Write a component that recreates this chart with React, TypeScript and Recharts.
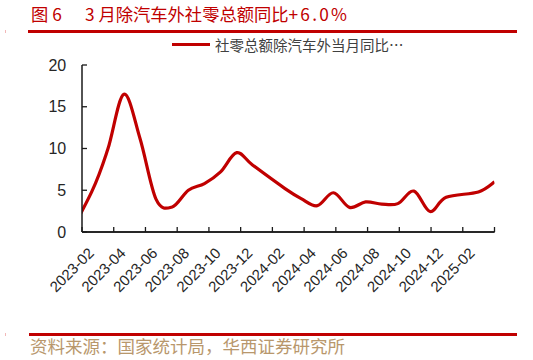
import React from 'react';
import { LineChart, Line, XAxis, YAxis, ReferenceLine } from 'recharts';

// ---- data ----
const MONTHS = [
  '2022-12',
  '2023-02', '2023-03', '2023-04', '2023-05', '2023-06', '2023-07', '2023-08', '2023-09', '2023-10', '2023-11', '2023-12',
  '2024-02', '2024-03', '2024-04', '2024-05', '2024-06', '2024-07', '2024-08', '2024-09', '2024-10', '2024-11', '2024-12',
  '2025-02', '2025-03',
];
const VALUES = [
  -2.5,
  4.8, 9.9, 16.5, 11.2, 3.9, 3.0, 5.0, 5.8, 7.2, 9.5, 8.0,
  5.2, 4.0, 3.15, 4.7, 2.95, 3.6, 3.35, 3.4, 4.9, 2.45, 4.15,
  4.8, 6.0,
];
const X_LABELS = [
  '2023-02', '2023-04', '2023-06', '2023-08', '2023-10', '2023-12',
  '2024-02', '2024-04', '2024-06', '2024-08', '2024-10', '2024-12', '2025-02',
];
const Y_TICKS = [0, 5, 10, 15, 20];
const SERIES_NAME = '社零总额除汽车外当月同比…';
const TITLE_A = '图 6';
const TITLE_B = '3 月除汽车外社零总额同比';
const TITLE_C = '+6.0%';
const SOURCE = '资料来源：国家统计局，华西证券研究所';

// ---- layout ----
const W = 533;
const H = 360;
const PLOT_L = 82;
const PLOT_T = 65;
const PLOT_R = 494.5;
const AXIS_Y = 232;
const PLOT_W = PLOT_R - PLOT_L;
const X_MIN = 0.4;
const X_MAX = 26;
const N_INT = X_LABELS.length;
const X_TICKS = Array.from({ length: N_INT + 1 }, (_, i) => X_MIN + (i * (X_MAX - X_MIN)) / N_INT);

const RED = '#c00000';
const AXIS = '#1a1a1a';

const monthIndex = (s: string) => {
  const [y, m] = s.split('-').map(Number);
  return (y - 2023) * 12 + (m - 1);
};

const data = MONTHS.map((mo, i) => ({ month: mo, m: monthIndex(mo), v: VALUES[i] }));

// Catmull-Rom style smoothing (similar to spreadsheet smoothed lines)
function smoothCurve(context: any) {
  let pts: number[][] = [];
  return {
    areaStart() {},
    areaEnd() {},
    lineStart() {
      pts = [];
    },
    lineEnd() {
      const n = pts.length;
      if (!n) return;
      context.moveTo(pts[0][0], pts[0][1]);
      for (let i = 0; i < n - 1; i++) {
        const p0 = pts[Math.max(i - 1, 0)];
        const p1 = pts[i];
        const p2 = pts[i + 1];
        const p3 = pts[Math.min(i + 2, n - 1)];
        context.bezierCurveTo(
          p1[0] + (p2[0] - p0[0]) / 6,
          p1[1] + (p2[1] - p0[1]) / 6,
          p2[0] - (p3[0] - p1[0]) / 6,
          p2[1] - (p3[1] - p1[1]) / 6,
          p2[0],
          p2[1]
        );
      }
    },
    point(x: number, y: number) {
      pts.push([+x, +y]);
    },
  };
}

const XTick = (props: any) => {
  const { x, index } = props;
  const step = PLOT_W / N_INT;
  const lx = x + step / 2 - 3;
  const ly = AXIS_Y + 22;
  return (
    <g>
      <line x1={x} x2={x} y1={AXIS_Y} y2={AXIS_Y - 5} stroke={AXIS} strokeWidth={1.3} />
      {index < N_INT && (
        <text
          x={lx}
          y={ly}
          textAnchor="end"
          fontSize={15}
          fill="#262626"
          fontFamily="'Liberation Sans', Arial, sans-serif"
          transform={`rotate(-45 ${lx} ${ly})`}
        >
          {X_LABELS[index]}
        </text>
      )}
    </g>
  );
};

const cjk = "'Noto Sans CJK SC', 'Noto Sans CJK JP', sans-serif";

export default function App() {
  return (
    <div style={{ position: 'absolute', left: 0, top: 0, width: W, height: H, background: '#fff', overflow: 'hidden' }}>
      {/* title */}
      <div style={{ position: 'absolute', left: 31, top: 4.5, fontFamily: cjk, fontSize: 17.3, lineHeight: '17.3px', color: RED, whiteSpace: 'pre' }}>
        {TITLE_A}
      </div>
      <div style={{ position: 'absolute', left: 85, top: 4.5, fontFamily: cjk, fontSize: 17.3, lineHeight: '17.3px', color: RED, whiteSpace: 'pre' }}>
        {TITLE_B}
        <span style={{ letterSpacing: 2.2 }}>{TITLE_C}</span>
      </div>
      <div style={{ position: 'absolute', left: 28, top: 30, width: 489, height: 2.8, background: RED }} />
      <div style={{ position: 'absolute', left: 5, top: 30, width: 1, height: 3, background: '#f2b8b8' }} />

      {/* legend */}
      <div style={{ position: 'absolute', left: 172, top: 43, width: 38, height: 3, background: RED }} />
      <div style={{ position: 'absolute', left: 215, top: 37.5, fontFamily: cjk, fontSize: 14.5, lineHeight: '14.5px', color: '#404040', whiteSpace: 'pre' }}>
        {SERIES_NAME}
      </div>

      <div style={{ position: 'absolute', left: 0, top: 0 }}>
        <LineChart width={W} height={H} data={data} margin={{ top: PLOT_T, right: W - PLOT_R, bottom: 0, left: 0 }}>
          <XAxis
            dataKey="m"
            type="number"
            domain={[X_MIN, X_MAX]}
            allowDataOverflow
            ticks={X_TICKS}
            interval={0}
            height={H - AXIS_Y}
            tickLine={false}
            tick={<XTick />}
            axisLine={{ stroke: AXIS, strokeWidth: 1.5 }}
          />
          <YAxis
            type="number"
            domain={[0, 20]}
            allowDataOverflow
            ticks={Y_TICKS}
            interval={0}
            width={PLOT_L}
            tickSize={-5}
            tickMargin={20.8}
            tickLine={{ stroke: AXIS, strokeWidth: 1.3 }}
            axisLine={{ stroke: AXIS, strokeWidth: 1.5 }}
            tick={{ fontSize: 16, fill: '#262626', fontFamily: "'Liberation Sans', Arial, sans-serif" }}
          />
          <ReferenceLine y={0} stroke={AXIS} strokeWidth={1.5} ifOverflow="visible" />
          <Line
            dataKey="v"
            type={smoothCurve as any}
            stroke={RED}
            strokeWidth={3.2}
            dot={false}
            activeDot={false}
            isAnimationActive={false}
          />
        </LineChart>
      </div>

      {/* source */}
      <div style={{ position: 'absolute', left: 29, top: 332.5, width: 488, height: 3, background: RED }} />
      <div style={{ position: 'absolute', left: 5, top: 333, width: 1, height: 3, background: '#f2b8b8' }} />
      <div style={{ position: 'absolute', left: 30, top: 336.5, fontFamily: cjk, fontSize: 17.5, lineHeight: '17.5px', color: '#b8976c', whiteSpace: 'pre' }}>
        {SOURCE}
      </div>
    </div>
  );
}
